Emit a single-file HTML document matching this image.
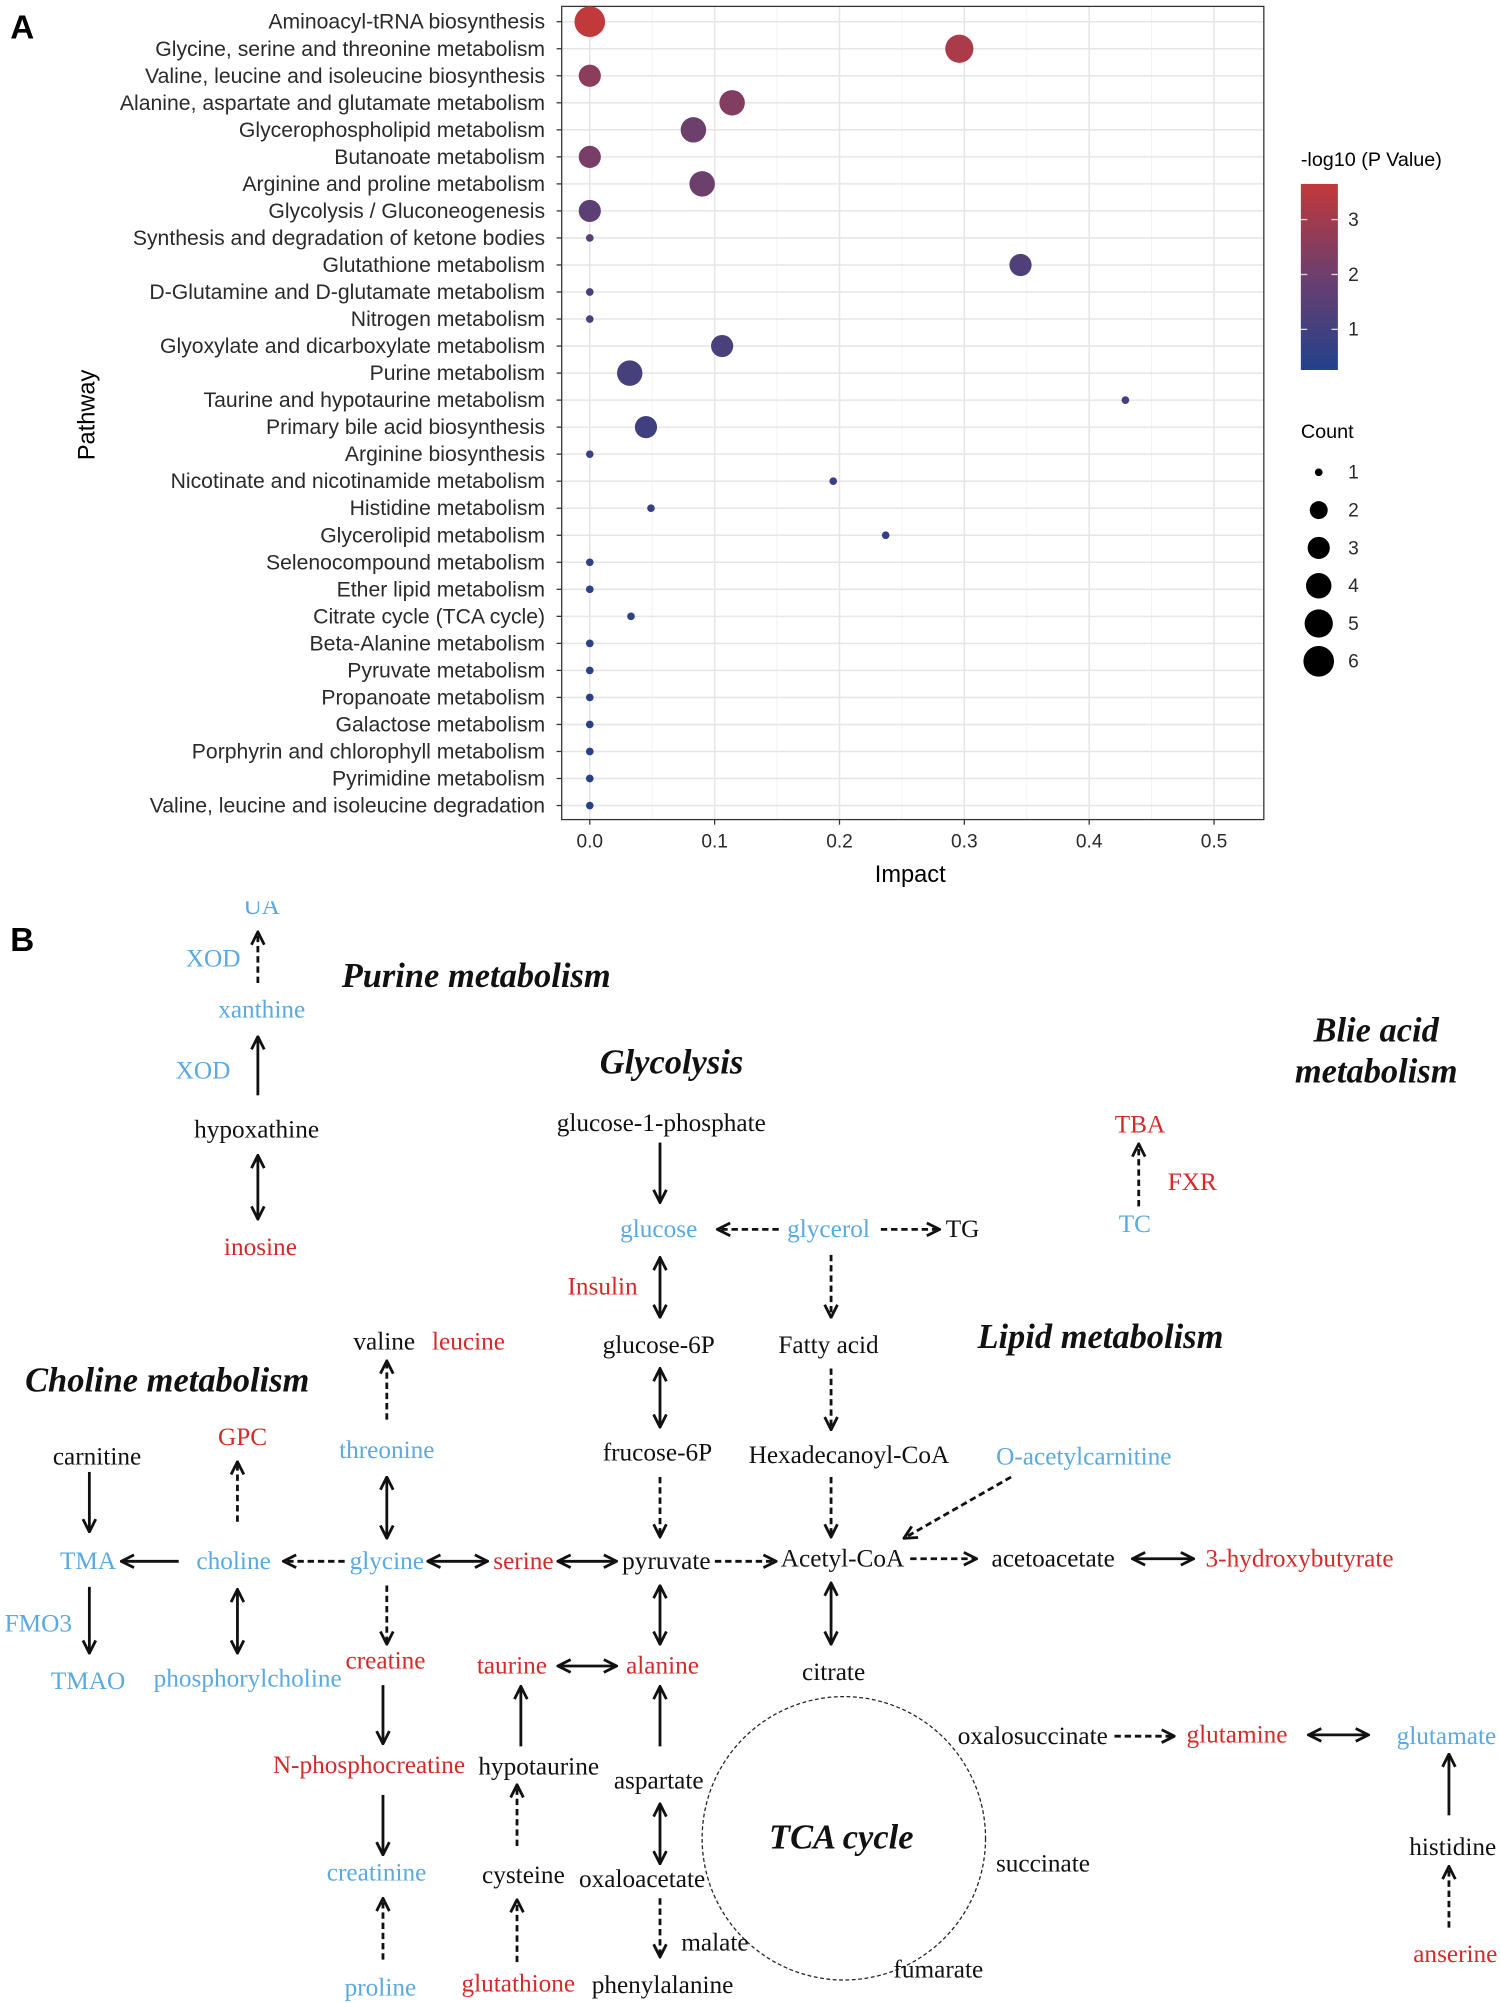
<!DOCTYPE html>
<html><head><meta charset="utf-8"><style>
html,body{margin:0;padding:0;background:#fff}
svg{display:block}
.sans{font-family:"Liberation Sans",Arial,sans-serif}
.ser{font-family:"Liberation Serif","Times New Roman",serif;font-size:19.8px}
.b{fill:#5aa9e0}.r{fill:#d42a2a}.k{fill:#111}
.ttl{font-family:"Liberation Serif",serif;font-weight:bold;font-style:italic;font-size:27px;fill:#111}
</style></head><body>
<svg id="root" width="1500" height="2003" viewBox="0 0 1175 1569" xmlns="http://www.w3.org/2000/svg">
<defs>
<linearGradient id="cg" x1="0" y1="1" x2="0" y2="0">
<stop offset="0" stop-color="#22418c"/><stop offset="0.5" stop-color="#6b3f6e"/><stop offset="1" stop-color="#c2393b"/>
</linearGradient>
<marker id="ah2" viewBox="0 0 12 12" refX="11" refY="6" markerWidth="12" markerHeight="12" orient="auto-start-reverse" markerUnits="userSpaceOnUse">
<path d="M1,1 L11,6 L1,11" fill="none" stroke="#111" stroke-width="2.2"/>
</marker>
</defs>
<g id="panelB">
<circle cx="661" cy="1440" r="111" fill="none" stroke="#222" stroke-width="1" stroke-dasharray="3,2"/>
<g id="arrows"></g>
<text class="ttl" x="373" y="773" text-anchor="middle">Purine metabolism</text>
<text class="ttl" x="526" y="841" text-anchor="middle">Glycolysis</text>
<text class="ttl" x="1078" y="816" text-anchor="middle">Blie acid</text>
<text class="ttl" x="1078" y="848" text-anchor="middle">metabolism</text>
<text class="ttl" x="862" y="1056" text-anchor="middle">Lipid metabolism</text>
<text class="ttl" x="131" y="1090" text-anchor="middle">Choline metabolism</text>
<text class="ttl" x="659" y="1448" text-anchor="middle">TCA cycle</text>
<g id="labels"></g>
</g>
<rect x="0" y="696" width="1175" height="10" fill="#fff"/>
<g id="panelA"></g>
<text x="8" y="30" class="sans" font-size="26" font-weight="bold">A</text>
<text x="8" y="745" class="sans" font-size="26" font-weight="bold">B</text>
</svg>
<script>
const pathways = ["Aminoacyl-tRNA biosynthesis","Glycine, serine and threonine metabolism","Valine, leucine and isoleucine biosynthesis","Alanine, aspartate and glutamate metabolism","Glycerophospholipid metabolism","Butanoate metabolism","Arginine and proline metabolism","Glycolysis / Gluconeogenesis","Synthesis and degradation of ketone bodies","Glutathione metabolism","D-Glutamine and D-glutamate metabolism","Nitrogen metabolism","Glyoxylate and dicarboxylate metabolism","Purine metabolism","Taurine and hypotaurine metabolism","Primary bile acid biosynthesis","Arginine biosynthesis","Nicotinate and nicotinamide metabolism","Histidine metabolism","Glycerolipid metabolism","Selenocompound metabolism","Ether lipid metabolism","Citrate cycle (TCA cycle)","Beta-Alanine metabolism","Pyruvate metabolism","Propanoate metabolism","Galactose metabolism","Porphyrin and chlorophyll metabolism","Pyrimidine metabolism","Valine, leucine and isoleucine degradation"];
const impact = [0.0,0.296,0.0,0.114,0.083,0.0,0.090,0.0,0.0,0.345,0.0,0.0,0.106,0.032,0.429,0.045,0.0,0.195,0.049,0.237,0.0,0.0,0.033,0.0,0.0,0.0,0.0,0.0,0.0,0.0];
const counts = [6,5,3,4,4,3,4,3,1,3,1,1,3,4,1,3,1,1,1,1,1,1,1,1,1,1,1,1,1,1];
const logp = [3.65,3.2,2.6,2.4,2.0,2.2,2.0,1.6,1.5,1.3,1.2,1.2,1.2,1.1,1.0,0.95,0.85,0.8,0.75,0.7,0.6,0.6,0.55,0.5,0.5,0.45,0.45,0.4,0.4,0.35];
const xTicks = [0,0.1,0.2,0.3,0.4,0.5];
const xTickLabels = ["0.0","0.1","0.2","0.3","0.4","0.5"];
const colorTicks = [1,2,3];
const countLevels = [1,2,3,4,5,6];

const NS="http://www.w3.org/2000/svg";
function mk(tag,attrs,parent){const e=document.createElementNS(NS,tag);for(const k in attrs)e.setAttribute(k,attrs[k]);parent.appendChild(e);return e;}
const P={l:440,r:990,t:5,b:642};
const xS=v=>462+v*978;
const yS=i=>17+i*(614/29);
const rS=c=>3+9*Math.sqrt((c-1)/5);
const cMin=0.26,cMax=3.65;
function lerp(a,b,t){return a+(b-a)*t;}
function colorS(v){
  let t=Math.max(0,Math.min(1,(v-cMin)/(cMax-cMin)));
  const s=[[0x22,0x41,0x8c],[0x6b,0x3f,0x6e],[0xc2,0x39,0x3b]];
  let a,b,u; if(t<0.5){a=s[0];b=s[1];u=t/0.5;}else{a=s[1];b=s[2];u=(t-0.5)/0.5;}
  return `rgb(${Math.round(lerp(a[0],b[0],u))},${Math.round(lerp(a[1],b[1],u))},${Math.round(lerp(a[2],b[2],u))})`;
}
const yC=v=>301-v*43;
const gA=document.getElementById('panelA');
let e=mk('rect',{x:P.l,y:P.t,width:P.r-P.l,height:P.b-P.t,fill:'#fff'},gA);


for(let i=0;i<xTicks.length;i++){const v=xTicks[i]+0.05;if(xS(v)<P.r){e=mk('line',{x1:xS(v),x2:xS(v),y1:P.t,y2:P.b,stroke:'#f2f2f2','stroke-width':0.8},gA);}}
for(let i=0;i<xTicks.length;i++){e=mk('line',{x1:xS(xTicks[i]),x2:xS(xTicks[i]),y1:P.t,y2:P.b,stroke:'#e6e6e6','stroke-width':1.2},gA);}
for(let i=0;i<pathways.length;i++){e=mk('line',{x1:P.l,x2:P.r,y1:yS(i),y2:yS(i),stroke:'#e6e6e6','stroke-width':1.2},gA);}
e=mk('rect',{x:P.l,y:P.t,width:P.r-P.l,height:P.b-P.t,fill:'none',stroke:'#333','stroke-width':1},gA);


for(let i=0;i<pathways.length;i++){
  e=mk('text',{x:427,y:yS(i)+5.5,'text-anchor':'end','font-size':16.6,fill:'#2a2a2a',class:'sans'},gA);e.textContent=pathways[i];
  
  
  e=mk('line',{x1:436,x2:440,y1:yS(i),y2:yS(i),stroke:'#333'},gA);
  
  
}
for(let i=0;i<xTicks.length;i++){
  e=mk('line',{x1:xS(xTicks[i]),x2:xS(xTicks[i]),y1:642,y2:646,stroke:'#333'},gA);
  
  
  e=mk('text',{x:xS(xTicks[i]),y:664,'text-anchor':'middle','font-size':15,fill:'#2a2a2a',class:'sans'},gA);e.textContent=xTickLabels[i];
  
  
}
e=mk('text',{x:713,y:691,'text-anchor':'middle','font-size':18.5,fill:'#000',class:'sans'},gA);e.textContent='Impact';


e=mk('text',{x:0,y:0,'text-anchor':'middle','font-size':18.5,fill:'#000',class:'sans',transform:'translate(74,325) rotate(-90)'},gA);e.textContent='Pathway';


for(let i=0;i<pathways.length;i++){
  e=mk('circle',{cx:xS(impact[i]),cy:yS(i),r:rS(counts[i]),fill:colorS(logp[i])},gA);
  
  
}
e=mk('text',{x:1019,y:130,'font-size':15.5,fill:'#000',class:'sans'},gA);e.textContent='-log10 (P Value)';


e=mk('rect',{x:1019,y:yC(cMax),width:29,height:yC(cMin)-yC(cMax),fill:'url(#cg)'},gA);


for(let i=0;i<colorTicks.length;i++){
  const y=yC(colorTicks[i]);
  mk('line',{x1:1019,x2:1024,y1:y,y2:y,stroke:'#ddd'},gA);mk('line',{x1:1043,x2:1048,y1:y,y2:y,stroke:'#ddd'},gA);
  e=mk('text',{x:1056,y:y+5,'font-size':15,fill:'#2a2a2a',class:'sans'},gA);e.textContent=String(colorTicks[i]);
  
  
}
e=mk('text',{x:1019,y:343,'font-size':15.5,fill:'#000',class:'sans'},gA);e.textContent='Count';


for(let i=0;i<countLevels.length;i++){
  const y=370+i*29.6;
  e=mk('circle',{cx:1033,cy:y,r:rS(countLevels[i]),fill:'#000'},gA);
  
  
  e=mk('text',{x:1056,y:y+5,'font-size':15,fill:'#2a2a2a',class:'sans'},gA);e.textContent=String(countLevels[i]);
  
  
}

const labels=[
["UA","b",205,716],["XOD","b",167,757],["xanthine","b",205,797],["XOD","b",159,845],["hypoxathine","k",201,891],["inosine","r",204,983],
["glucose-1-phosphate","k",518,886],["glucose","b",516,969],["glycerol","b",649,969],["TG","k",754,969],["Insulin","r",472,1014],
["glucose-6P","k",516,1060],["Fatty acid","k",649,1060],["frucose-6P","k",515,1144],["Hexadecanoyl-CoA","k",665,1146],["O-acetylcarnitine","b",849,1147],
["valine","k",301,1057],["leucine","r",367,1057],["threonine","b",303,1142],["TBA","r",893,887],["FXR","r",934,932],["TC","b",889,965],
["carnitine","k",76,1147],["GPC","r",190,1132],["TMA","b",69,1229],["choline","b",183,1229],["glycine","b",303,1229],["serine","r",410,1229],
["pyruvate","k",522,1229],["Acetyl-CoA","k",660,1227],["acetoacetate","k",825,1227],["3-hydroxybutyrate","r",1018,1227],
["FMO3","b",30,1278],["TMAO","b",69,1323],["phosphorylcholine","b",194,1321],["creatine","r",302,1307],["citrate","k",653,1316],
["taurine","r",401,1311],["alanine","r",519,1311],["N-phosphocreatine","r",289,1389],["hypotaurine","k",422,1390],["aspartate","k",516,1401],
["creatinine","b",295,1473],["cysteine","k",410,1475],["oxaloacetate","k",503,1478],["proline","b",298,1563],["glutathione","r",406,1560],
["phenylalanine","k",519,1561],["malate","k",560,1528],["oxalosuccinate","k",809,1366],["glutamine","r",969,1365],["glutamate","b",1133,1366],
["histidine","k",1138,1453],["anserine","r",1140,1537],["succinate","k",817,1466],["fumarate","k",735,1549]
];
const gL=document.getElementById('labels');
for(const l of labels){
  e=mk('text',{x:l[2],y:l[3],'text-anchor':'middle',class:'ser '+l[1]},gL);e.textContent=l[0];
  
  
}
const arrows=[
[202,770,202,730,1,0],[202,858,202,812,0,0],[202,905,202,955,0,1],
[517,895,517,942,0,0],[610,963,562,963,1,0],[690,963,736,963,1,0],[517,985,517,1032,0,1],[651,983,651,1032,1,0],
[517,1072,517,1118,0,1],[651,1072,651,1120,1,0],[517,1157,517,1204,1,0],[651,1157,651,1204,1,0],[792,1157,708,1205,1,0],
[303,1112,303,1066,1,0],[303,1157,303,1205,0,1],[892,945,892,896,1,0],
[70,1153,70,1200,0,0],[186,1192,186,1145,1,0],[140,1223,95,1223,0,0],[270,1223,222,1223,1,0],[335,1223,382,1223,0,1],
[437,1223,483,1223,0,1],[560,1223,608,1223,1,0],[713,1221,765,1221,1,0],[887,1221,935,1221,0,1],
[70,1243,70,1295,0,0],[186,1245,186,1295,0,1],[303,1242,303,1288,1,0],[517,1242,517,1288,0,1],[651,1240,651,1288,0,1],
[437,1305,483,1305,0,1],[300,1320,300,1366,0,0],[408,1368,408,1321,0,0],[517,1368,517,1321,0,0],
[300,1406,300,1453,0,0],[405,1446,405,1398,1,0],[517,1413,517,1460,0,1],
[300,1535,300,1487,1,0],[405,1537,405,1488,1,0],[517,1487,517,1533,1,0],
[873,1360,920,1360,1,0],[1025,1359,1072,1359,0,1],[1135,1422,1135,1374,0,0],[1135,1510,1135,1462,1,0]
];
const gAr=document.getElementById('arrows');
for(const a of arrows){
  const at={x1:a[0],y1:a[1],x2:a[2],y2:a[3],stroke:'#111','stroke-width':2.2,'marker-end':'url(#ah2)'};
  if(a[4])at['stroke-dasharray']='5,3';
  if(a[5])at['marker-start']='url(#ah2)';
  e=mk('line',at,gAr);
  
  
}
</script>
</body></html>
